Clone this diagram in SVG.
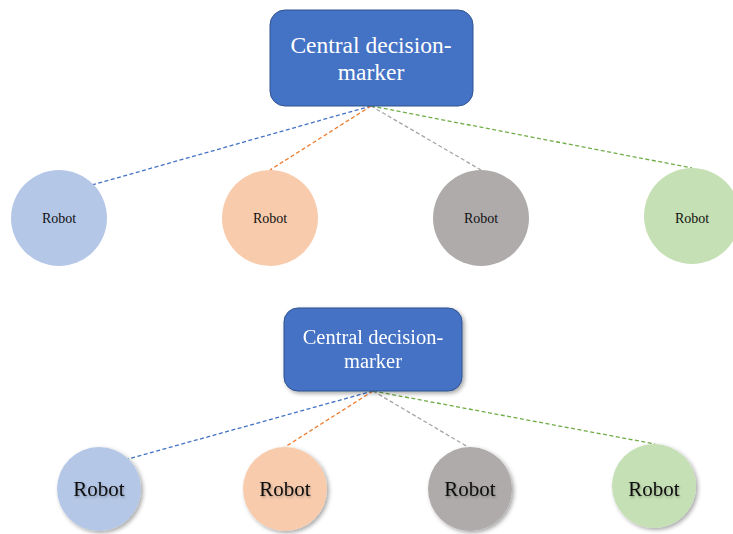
<svg xmlns="http://www.w3.org/2000/svg" width="733" height="534" viewBox="0 0 733 534">
<style>
.box{fill:#4472C4;stroke:#2F528F;stroke-width:1}
.boxt{fill:#fff;font-family:"Liberation Serif","Times New Roman",serif;text-anchor:middle}
.rt{fill:#111;font-family:"Liberation Serif","Times New Roman",serif;text-anchor:middle}
.c{stroke:none}
.ln{fill:none;stroke-width:1.3;stroke-dasharray:4 2.5}
.b{fill:#B4C7E7}.o{fill:#F8CBAD}.g{fill:#AFABAB}.gr{fill:#C5E0B4}
.lb{stroke:#4472C4}.lo{stroke:#ED7D31}.lg{stroke:#A5A5A5}.lgr{stroke:#70AD47}
</style>
<defs>
<filter id="sh" x="-20%" y="-20%" width="150%" height="150%">
<feDropShadow dx="2" dy="2" stdDeviation="2" flood-color="#000" flood-opacity="0.35"/>
</filter>
<filter id="tsh" x="-20%" y="-40%" width="140%" height="180%">
<feDropShadow dx="1" dy="1.5" stdDeviation="1.2" flood-color="#000" flood-opacity="0.3"/>
</filter>
</defs>
<g id="connectors">
<line class="ln lb" x1="371" y1="106" x2="92" y2="185"/>
<line class="ln lo" x1="371" y1="106" x2="270" y2="170"/>
<line class="ln lg" x1="371" y1="106" x2="481" y2="170"/>
<line class="ln lgr" x1="371" y1="106" x2="692" y2="168"/>
<line class="ln lb" x1="373" y1="391" x2="128" y2="459"/>
<line class="ln lo" x1="373" y1="391" x2="285" y2="447"/>
<line class="ln lg" x1="373" y1="391" x2="468" y2="447"/>
<line class="ln lgr" x1="373" y1="391" x2="655" y2="444"/>
</g>
<g id="top-center">
<rect class="box" x="270" y="10" width="203" height="96" rx="15"/>
<text class="boxt" x="371" y="53" font-size="23.5">Central decision-</text>
<text class="boxt" x="371" y="80" font-size="23.5">marker</text>
</g>
<g id="top-robot-1"><circle class="c b" cx="59" cy="218" r="48"/><text class="rt" x="59" y="223" font-size="14">Robot</text></g>
<g id="top-robot-2"><circle class="c o" cx="270" cy="218" r="48"/><text class="rt" x="270" y="223" font-size="14">Robot</text></g>
<g id="top-robot-3"><circle class="c g" cx="481" cy="218" r="48"/><text class="rt" x="481" y="223" font-size="14">Robot</text></g>
<g id="top-robot-4"><circle class="c gr" cx="692" cy="216" r="48"/><text class="rt" x="692" y="223" font-size="14">Robot</text></g>
<g id="bottom-center" filter="url(#sh)">
<rect class="box" x="284" y="308" width="178" height="83" rx="14"/>
<text class="boxt" x="373" y="344" font-size="20.5">Central decision-</text>
<text class="boxt" x="373" y="368" font-size="20.5">marker</text>
</g>
<g id="bottom-robot-1"><circle class="c b" cx="99" cy="489" r="42" filter="url(#sh)"/><text class="rt" x="99" y="496" font-size="21" filter="url(#tsh)">Robot</text></g>
<g id="bottom-robot-2"><circle class="c o" cx="285" cy="489" r="42" filter="url(#sh)"/><text class="rt" x="285" y="496" font-size="21" filter="url(#tsh)">Robot</text></g>
<g id="bottom-robot-3"><circle class="c g" cx="470" cy="489" r="42" filter="url(#sh)"/><text class="rt" x="470" y="496" font-size="21" filter="url(#tsh)">Robot</text></g>
<g id="bottom-robot-4"><circle class="c gr" cx="654" cy="486" r="42" filter="url(#sh)"/><text class="rt" x="654" y="496" font-size="21" filter="url(#tsh)">Robot</text></g>
</svg>
